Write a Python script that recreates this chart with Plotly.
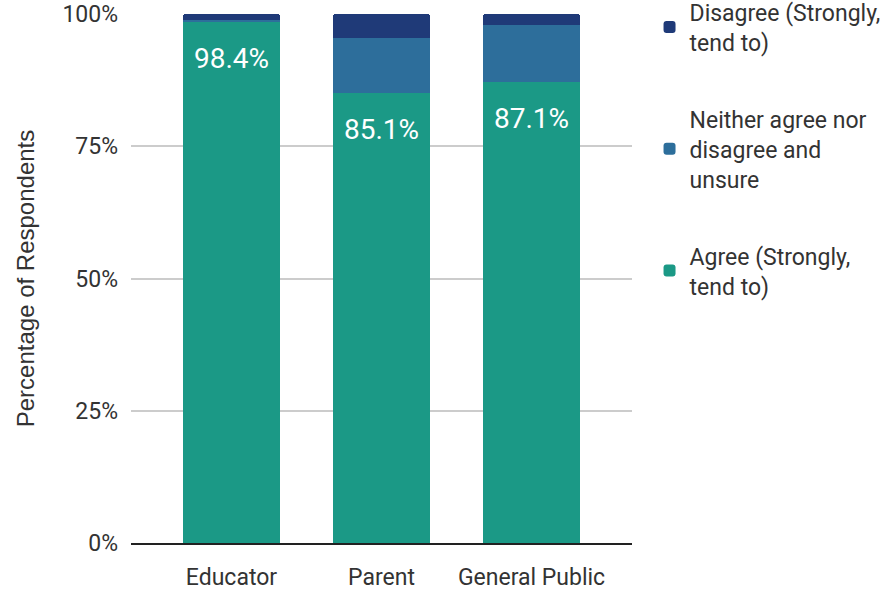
import plotly.graph_objects as go

# Survey responses by respondent group (percent of respondents)
groups = ["Educator", "Parent", "General Public"]
agree = [98.4, 85.1, 87.1]
neither = [0.5, 10.4, 10.8]
disagree = [1.1, 4.5, 2.1]

series_names = [
    "Agree (Strongly,<br>tend to)",
    "Neither agree nor<br>disagree and<br>unsure",
    "Disagree (Strongly,<br>tend to)",
]
series_colors = ["#1b9986", "#2d6e9b", "#1f3a78"]
legend_ranks = [3, 2, 1]
y_ticks = [0, 25, 50, 75, 100]
y_tick_text = ["0%", "25%", "50%", "75%", "100%"]

font_main = "Roboto, 'Liberation Sans', sans-serif"

fig = go.Figure()
for name, vals, color, rank in zip(series_names, [agree, neither, disagree], series_colors, legend_ranks):
    fig.add_trace(go.Bar(
        x=groups, y=vals, name=name, legendgroup=name, legendrank=rank,
        marker=dict(color=color, line=dict(width=0)),
        width=0.65, hoverinfo="skip",
    ))

# value labels inside the top of each "agree" segment
for g, v in zip(groups, agree):
    fig.add_annotation(
        x=g, y=v, text=f"{v:.1f}%", showarrow=False,
        yanchor="top", yshift=-18,
        font=dict(family=font_main, size=28, color="white"),
    )

fig.update_layout(
    barmode="stack",
    barcornerradius=3,
    width=893, height=591,
    margin=dict(l=131, r=261, t=14, b=48, autoexpand=False),
    paper_bgcolor="white", plot_bgcolor="white",
    font=dict(family=font_main, color="#333333"),
    showlegend=True,
    legend=dict(
        x=1.035, y=1.044, xanchor="left", yanchor="top",
        traceorder="grouped", tracegroupgap=44,
        font=dict(family=font_main, size=23, color="#333333"),
        itemwidth=30, maxheight=1,
    ),
    xaxis=dict(
        range=[-0.67, 2.67], showgrid=False,
        showline=True, linecolor="#222222", linewidth=2,
        tickfont=dict(family=font_main, size=23, color="#333333"),
        ticks="", ticklabelstandoff=12,
    ),
    yaxis=dict(
        range=[0, 100], tickvals=y_ticks, ticktext=y_tick_text,
        showgrid=True, gridcolor="#cccccc", gridwidth=1.5,
        zeroline=False, showline=False,
        tickfont=dict(family=font_main, size=23, color="#333333"),
        ticklabelstandoff=12,
        title=dict(text="Percentage of Respondents",
                   font=dict(family="'Liberation Sans', Arial, sans-serif", size=24, color="#333333"),
                   standoff=20),
    ),
)

fig.write_html("out.html")
